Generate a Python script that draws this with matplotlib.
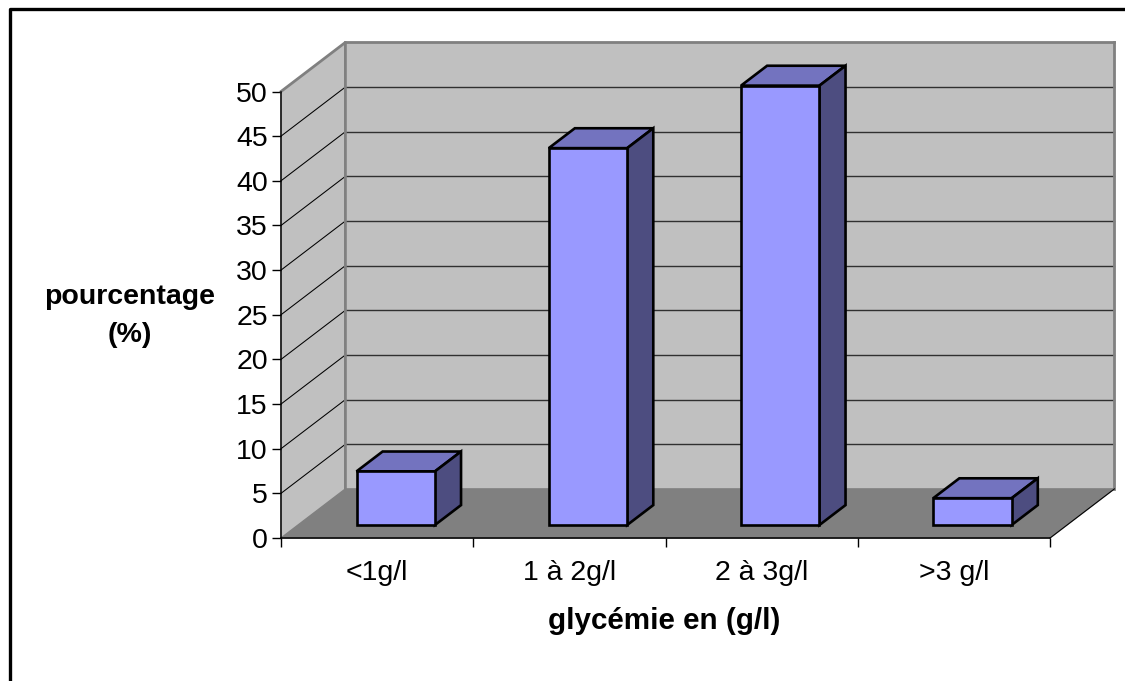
import matplotlib
matplotlib.use('Agg')
import matplotlib.pyplot as plt
from matplotlib.lines import Line2D

categories = ['<1g/l', '1 à 2g/l', '2 à 3g/l', '>3 g/l']
values = [6, 42.2, 49.2, 3]
y_ticks = [0, 5, 10, 15, 20, 25, 30, 35, 40, 45, 50]

W, H = 1125, 681
plt.rcParams['font.family'] = ['Liberation Sans', 'DejaVu Sans']

# depth of the fake 3d box, in data units
DX = 0.335
DY = 5.5
BAR_W = 0.408
D0, D1 = 0.265, 0.67
FS = 20.5


def shift(x, y, d):
    return x + d * DX, y + d * DY


def face(ax, pts, color, z, **kw):
    ax.fill([p[0] for p in pts], [p[1] for p in pts], color=color,
            zorder=z, clip_on=False, **kw)


fig = plt.figure(figsize=(W / 100, H / 100), dpi=100)
ax = fig.add_axes([281 / W, 1 - 538 / H, 769 / W, 446.5 / H])
ax.set_xlim(0, 4)
ax.set_ylim(0, 50)
ax.patch.set_visible(False)

# walls and floor
face(ax, [shift(0, 0, 1), shift(4, 0, 1), shift(4, 50, 1), shift(0, 50, 1)], '#C0C0C0', 1)
face(ax, [(0, 0), shift(0, 0, 1), shift(0, 50, 1), (0, 50)], '#C0C0C0', 1)
face(ax, [(0, 0), (4, 0), shift(4, 0, 1), shift(0, 0, 1)], '#808080', 1.5)

# gridlines on both walls
for t in y_ticks[1:]:
    x0, y0 = shift(0, t, 1)
    x1, y1 = shift(4, t, 1)
    if t < 50:
        ax.plot([0, x0], [t, y0], color='black', lw=0.75, zorder=2, clip_on=False)
    ax.plot([x0, x1], [y0, y1], color='#303030' if t < 50 else '#808080',
            lw=1.0 if t < 50 else 2.0, zorder=2, clip_on=False)

# wall borders
ax.plot([0, DX, DX], [50, 50 + DY, DY], color='#808080', lw=2.0, zorder=2.5, clip_on=False)
ax.plot([4 + DX, 4 + DX], [DY, 50 + DY], color='#808080', lw=2.0, zorder=2.5, clip_on=False)
ax.plot([4, 4 + DX], [0, DY], color='black', lw=0.75, zorder=2.5, clip_on=False)

# bars
edge = dict(edgecolor='black', linewidth=1.9, joinstyle='miter')
for i, v in enumerate(values):
    l = i + 0.508 - BAR_W / 2
    r = l + BAR_W
    face(ax, [shift(l, v, D0), shift(r, v, D0), shift(r, v, D1), shift(l, v, D1)], '#7373BF', 3, **edge)
    face(ax, [shift(r, 0, D0), shift(r, 0, D1), shift(r, v, D1), shift(r, v, D0)], '#4D4D80', 3, **edge)
    face(ax, [shift(l, 0, D0), shift(r, 0, D0), shift(r, v, D0), shift(l, v, D0)], '#9999FF', 3, **edge)

# axes
for s in ['top', 'right']:
    ax.spines[s].set_visible(False)
for s in ['left', 'bottom']:
    ax.spines[s].set_linewidth(1.1)
    ax.spines[s].set_zorder(4)
ax.set_yticks(y_ticks)
ax.set_xticks(range(5))
ax.set_xticklabels([])
ax.set_xticks([i + 0.5 for i in range(4)], minor=True)
ax.set_xticklabels(categories, minor=True)
ax.tick_params(axis='y', direction='out', length=6.5, width=1.0, labelsize=FS, pad=3)
ax.tick_params(axis='x', which='major', direction='out', length=6.5, width=1.0)
ax.tick_params(axis='x', which='minor', length=0, labelsize=FS, pad=15.5)

# axis titles
fig.text(130 / W, 1 - 297 / H, 'pourcentage', ha='center', va='center', fontsize=FS, fontweight='bold')
fig.text(130 / W, 1 - 335 / H, '(%)', ha='center', va='center', fontsize=FS, fontweight='bold')
fig.text(664 / W, 1 - 621 / H, 'glycémie en (g/l)', ha='center', va='center', fontsize=FS + 0.8, fontweight='bold')

# outer frame, cut by the image edge
fig.add_artist(Line2D([9.5 / W, 9.5 / W, 1], [0, 1 - 9 / H, 1 - 9 / H], color='black', lw=2.4))

fig.savefig('out.png', dpi=100)
